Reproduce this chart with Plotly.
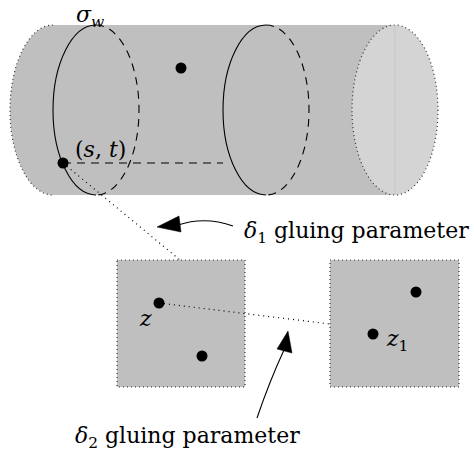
import plotly.graph_objects as go

# ---- diagram values (pixel-space coordinates) ----
cyl_top, cyl_bottom = 25, 195
cyl_left_cx, cyl_right_cx = 53, 395
ring_rx = 43
ring_centers = [96, 266]          # sigma_w circle and second circle
dot_cyl_x = [181, 63]
dot_cyl_y = [68, 163]
sq_left = [117, 245, 260, 387]    # x0, x1, y0, y1
sq_right = [330, 459, 260, 387]
dot_sq_x = [159, 202, 416, 373]
dot_sq_y = [303, 356, 292, 334]
labels = ["<i>σ</i><sub><i>w</i></sub>", "(<i>s</i>, <i>t</i>)", "<i>z</i>", "<i>z</i><sub>1</sub>",
          "<i>δ</i><sub>1</sub> gluing parameter", "<i>δ</i><sub>2</sub> gluing parameter"]

GRAY = "#bfbfbf"
LIGHT = "#d4d4d4"
FONT = "DejaVu Serif"
K = 0.5523

cy = (cyl_top + cyl_bottom) / 2
ry = (cyl_bottom - cyl_top) / 2


def half_ellipse(cx, side, start=True):
    """Cubic-bezier half ellipse from top to bottom; side=-1 left, +1 right."""
    rx = ring_rx * side
    p = ""
    if start:
        p += f"M {cx},{cy-ry} "
    p += (f"C {cx+K*rx},{cy-ry} {cx+rx},{cy-K*ry} {cx+rx},{cy} "
          f"C {cx+rx},{cy+K*ry} {cx+K*rx},{cy+ry} {cx},{cy+ry}")
    return p


shapes = []
# cylinder body
body = (f"M {cyl_right_cx},{cyl_top} L {cyl_left_cx},{cyl_top} " + half_ellipse(cyl_left_cx, -1, start=False)
        + f" L {cyl_right_cx},{cyl_bottom} Z")
shapes.append(dict(type="path", path=body, fillcolor=GRAY, line=dict(width=0), layer="below"))
# left dotted boundary
shapes.append(dict(type="path", path=half_ellipse(cyl_left_cx, -1), line=dict(color="#333", width=1.2, dash="1px,3px"), layer="below"))
# right end cap
shapes.append(dict(type="circle", x0=cyl_right_cx - ring_rx, x1=cyl_right_cx + ring_rx, y0=cyl_top, y1=cyl_bottom,
                   fillcolor=LIGHT, line=dict(color="#333", width=1.2, dash="1px,3px"), layer="below"))
shapes.append(dict(type="line", x0=cyl_right_cx, x1=cyl_right_cx, y0=cyl_top, y1=cyl_bottom,
                   line=dict(color="#c6c6c6", width=1), layer="below"))
# rings
for c in ring_centers:
    shapes.append(dict(type="path", path=half_ellipse(c, -1), line=dict(color="black", width=1.1)))
    shapes.append(dict(type="path", path=half_ellipse(c, 1), line=dict(color="black", width=1.1, dash="8px,6px")))
# dashed horizontal from (s,t)
shapes.append(dict(type="line", x0=dot_cyl_x[1], x1=ring_centers[1] - ring_rx, y0=dot_cyl_y[1], y1=dot_cyl_y[1],
                   line=dict(color="black", width=1.1, dash="8px,6px")))
# squares
for s in (sq_left, sq_right):
    shapes.append(dict(type="rect", x0=s[0], x1=s[1], y0=s[2], y1=s[3], fillcolor=GRAY,
                       line=dict(color="#333", width=1.2, dash="1px,3px"), layer="below"))
# dotted gluing lines
shapes.append(dict(type="line", x0=dot_cyl_x[1], y0=dot_cyl_y[1], x1=180, y1=260,
                   line=dict(color="black", width=1.2, dash="1px,4px")))
shapes.append(dict(type="line", x0=dot_sq_x[0], y0=dot_sq_y[0], x1=sq_right[0], y1=324,
                   line=dict(color="black", width=1.2, dash="1px,4px")))
# curved arrows
shapes.append(dict(type="path", path="M 233,226 Q 205,216 178,225", line=dict(color="black", width=1.1)))
shapes.append(dict(type="path", path="M 157,227 L 179,216 L 181,232 Z", fillcolor="black", line=dict(color="black", width=0.5)))
shapes.append(dict(type="path", path="M 257,418 Q 270,380 284,350", line=dict(color="black", width=1.1)))
shapes.append(dict(type="path", path="M 288,331 L 277,349 L 292,353 Z", fillcolor="black", line=dict(color="black", width=0.5)))

fig = go.Figure()
fig.add_trace(go.Scatter(x=dot_cyl_x + dot_sq_x, y=dot_cyl_y + dot_sq_y, mode="markers",
                         marker=dict(color="black", size=11), hoverinfo="skip", showlegend=False))

ann_pos = [(90, 0, "center", "top"), (100, 149, "center", "middle"), (145, 318, "center", "middle"),
           (384, 340, "left", "middle"), (242, 232, "left", "middle"), (73, 437, "left", "middle")]
annotations = []
for (x, y, xa, ya), t in zip(ann_pos, labels):
    annotations.append(dict(x=x, y=y, text=t, showarrow=False, xanchor=xa, yanchor=ya,
                            font=dict(family=FONT, size=22, color="black")))

fig.update_layout(
    width=474, height=454, margin=dict(l=0, r=0, t=0, b=0),
    paper_bgcolor="white", plot_bgcolor="white",
    xaxis=dict(range=[0, 474], visible=False, fixedrange=True),
    yaxis=dict(range=[454, 0], visible=False, fixedrange=True),
    shapes=shapes, annotations=annotations, showlegend=False,
)
fig.write_html("out.html", post_script="document.body.style.margin='0';", config={"displayModeBar": False})
